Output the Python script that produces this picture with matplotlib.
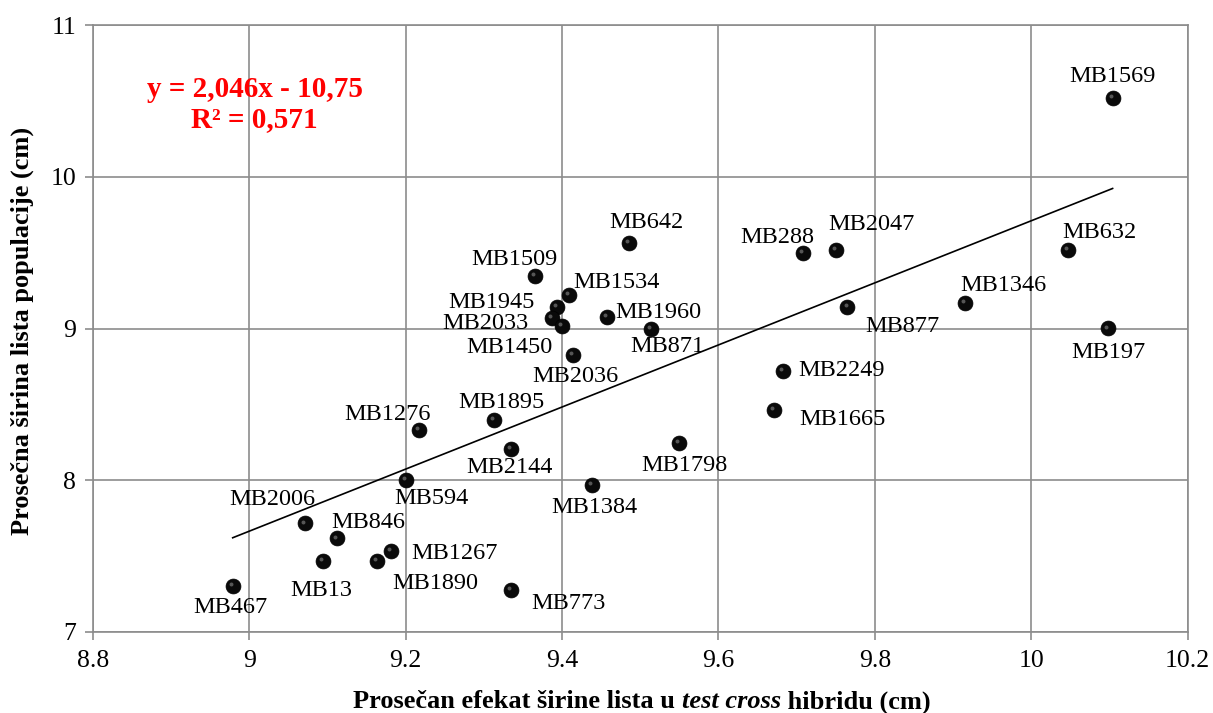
import matplotlib
matplotlib.use("Agg")
import matplotlib.pyplot as plt
import numpy as np

names = ["MB1569", "MB642", "MB1509", "MB1534", "MB1945", "MB2033", "MB1450",
         "MB1960", "MB871", "MB2036", "MB1276", "MB1895", "MB2144", "MB594",
         "MB1384", "MB2006", "MB846", "MB13", "MB1890", "MB1267", "MB467",
         "MB773", "MB288", "MB2047", "MB632", "MB1346", "MB877", "MB197",
         "MB2249", "MB1665", "MB1798"]
x_vals = [10.104, 9.486, 9.366, 9.409, 9.394, 9.387, 9.400,
          9.458, 9.514, 9.414, 9.217, 9.3125, 9.335, 9.201,
          9.438, 9.072, 9.112, 9.095, 9.164, 9.181, 8.979,
          9.335, 9.7085, 9.750, 10.0465, 9.915, 9.765, 10.098,
          9.682, 9.671, 9.550]
y_vals = [10.519, 9.563, 9.346, 9.221, 9.142, 9.069, 9.016,
          9.076, 9.000, 8.825, 8.331, 8.397, 8.206, 8.002,
          7.969, 7.716, 7.617, 7.468, 7.468, 7.534, 7.305,
          7.277, 9.500, 9.517, 9.517, 9.166, 9.142, 9.001,
          8.720, 8.463, 8.245]
# label offsets (pixels, right / up) of label centre from point
lab_dx = [0, 17, -21, 47, -66, -66, -53, 51, 16, 2, -31, 8, -2, 25, 3, -33.5,
          31.5, -2, 58, 64, -2, 57, -26, 36, 31.5, 38.5, 55, 0, 59, 69, 5]
lab_dy = [24, 23, 19, 15, 7, -3, -19, 7, -16, -19.5, 17.5, 19.5, -16.5, -16,
          -20, 26, 18, -27, -20, 0, -19, -11, 17.5, 27.5, 19.5, 20, -17.5,
          -22, 2.5, -7.5, -20]

slope = 2.046
intercept = -10.75
x_ticks = [8.8, 9.0, 9.2, 9.4, 9.6, 9.8, 10.0, 10.2]
x_tick_labels = ["8.8", "9", "9.2", "9.4", "9.6", "9.8", "10", "10.2"]
y_ticks = [7, 8, 9, 10, 11]

plt.rcParams['font.family'] = ['Liberation Serif', 'DejaVu Serif']

W, H = 1213, 713
fig = plt.figure(figsize=(W / 100, H / 100), dpi=100)
ax = fig.add_axes([92.7 / W, (H - 632) / H, (1187.7 - 92.7) / W, (632 - 25) / H])

grid_c = '#8c8c8c'
ax.set_xlim(8.8, 10.2)
ax.set_ylim(7, 11)
ax.set_xticks(x_ticks)
ax.set_xticklabels(x_tick_labels)
ax.set_yticks(y_ticks)
ax.grid(True, color=grid_c, linewidth=1.2)
ax.set_axisbelow(True)
for s in ax.spines.values():
    s.set_color(grid_c)
    s.set_linewidth(1.2)
ax.tick_params(axis='both', colors=grid_c, length=6, width=1.2, labelsize=18.5,
               labelcolor='black')
ax.tick_params(axis='x', pad=7)
ax.tick_params(axis='y', pad=6)

# trendline
xl = np.array([min(x_vals), max(x_vals)])
ax.plot(xl, slope * xl + intercept, color='black', linewidth=1.2, zorder=2)

# points
ax.scatter(x_vals, y_vals, s=115, color='#0a0a0a', edgecolor='#000000',
           linewidth=0.5, zorder=3)
ax.scatter(np.array(x_vals) - 0.0025, np.array(y_vals) + 0.012, s=8,
           color='#6a6a6a', linewidth=0, zorder=4, alpha=0.8)

for n, xv, yv, dx, dy in zip(names, x_vals, y_vals, lab_dx, lab_dy):
    ax.annotate(n, (xv, yv), xytext=(dx * 0.72, (dy - 7.8) * 0.72),
                textcoords='offset points', ha='center', va='baseline',
                fontsize=17.5, zorder=5)

# equation
ax.text(0.148, 0.893, "y = 2,046x - 10,75", transform=ax.transAxes,
        ha='center', va='center', color='#ff0000', fontsize=21, fontweight='bold')
ax.text(0.148, 0.845, "R² = 0,571", transform=ax.transAxes,
        ha='center', va='center', color='#ff0000', fontsize=21, fontweight='bold')

# y label
fig.text(22 / W, 1 - 331 / H, "Prosečna širina lista populacije (cm)",
         rotation=90, ha='center', va='center', fontsize=19, fontweight='bold')

# x label with italic part
parts = [("Prosečan efekat širine lista u ", 'normal'),
         ("test cross", 'italic'),
         (" hibridu (cm)", 'normal')]
fig.canvas.draw()
renderer = fig.canvas.get_renderer()
texts = []
widths = []
for s, st in parts:
    t = fig.text(0, 1 - 702 / H, s, fontsize=19, fontweight='bold', style=st,
                 ha='left', va='center')
    bb = t.get_window_extent(renderer=renderer)
    texts.append(t)
    widths.append(bb.width)
total = sum(widths)
xpos = 642 - total / 2
for t, w in zip(texts, widths):
    t.set_x(xpos / W)
    xpos += w

fig.savefig("out.png", dpi=100)
